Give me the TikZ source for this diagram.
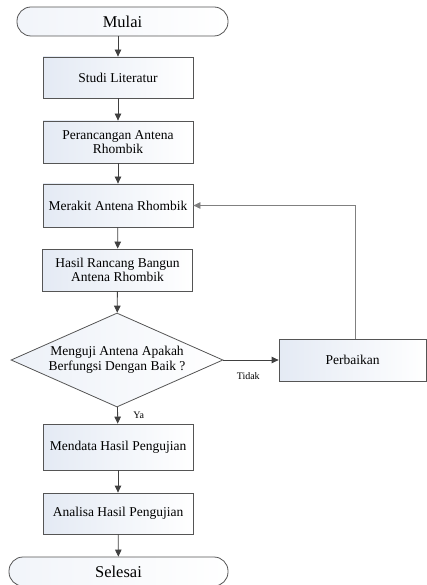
\documentclass[tikz,border=0pt]{standalone}
\usepackage{fontspec}
\setmainfont{Liberation Serif}
\usetikzlibrary{shapes.geometric,arrows.meta}

\definecolor{boxfill}{RGB}{228,234,244}
\definecolor{garis}{RGB}{85,85,85}

\tikzset{
  proses/.style={draw=garis, line width=0.8pt, left color=boxfill, right color=white,
    minimum width=150pt, minimum height=42pt, inner sep=0pt, align=center,
    font=\fontsize{13.5}{14.5}\selectfont},
  terminal/.style={draw=garis, line width=0.8pt, rounded corners=14pt,
    left color=boxfill!50!white, right color=white, minimum height=29pt,
    font=\fontsize{16.5}{18}\selectfont},
  keputusan/.style={diamond, draw=garis, line width=0.8pt, left color=boxfill!70!white,
    right color=white, aspect=2.26, inner sep=0pt, align=center,
    minimum width=212pt, minimum height=94pt, font=\fontsize{13.5}{14.5}\selectfont},
  panah/.style={draw=black!75, line width=0.8pt, -{Triangle[length=7pt,width=6.5pt]}},
  ket/.style={font=\fontsize{10}{12}\selectfont}
}

\begin{document}
\begin{tikzpicture}[x=1pt,y=1pt]
\useasboundingbox (0,0) rectangle (427,-585);

% Draw the nodes
\node[terminal, minimum width=211pt] (mulai) at (122.5,-21.5) {Mulai};
\node[proses, minimum height=41pt] (studi) at (118,-77.5) {Studi Literatur};
\node[proses] (rancang) at (118,-142) {Perancangan Antena\\Rhombik};
\node[proses, minimum height=43pt] (rakit) at (118,-205.5) {Merakit Antena Rhombik};
\node[proses] (hasil) at (117.5,-270) {Hasil Rancang Bangun\\Antena Rhombik};
\node[keputusan] (uji) at (117,-360) {Menguji Antena Apakah\\Berfungsi Dengan Baik ?};
\node[proses, minimum width=147pt] (baik) at (352.5,-360) {Perbaikan};
\node[proses, minimum height=46pt] (data) at (118,-447) {Mendata Hasil Pengujian};
\node[proses, minimum height=41pt] (analisa) at (118,-513.5) {Analisa Hasil Pengujian};
\node[terminal, minimum width=219pt] (selesai) at (118.5,-571.5) {Selesai};

% Draw the edges
\draw[panah] (mulai.south -| studi.north) -- (studi);
\draw[panah] (studi) -- (rancang);
\draw[panah] (rancang) -- (rakit);
\draw[panah] (rakit) -- (hasil);
\draw[panah] (hasil) -- (uji);
\draw[panah] (uji) -- node[ket, below=9pt, pos=0.45] {Tidak} (baik);
\draw[panah, draw=black!50] ([xshift=2.5pt]baik.north) |- (rakit.east);
\draw[panah] (uji) -- node[ket, right=12pt] {Ya} (data);
\draw[panah] (data) -- (analisa);
\draw[panah] (analisa) -- (selesai);

\end{tikzpicture}
\end{document}
